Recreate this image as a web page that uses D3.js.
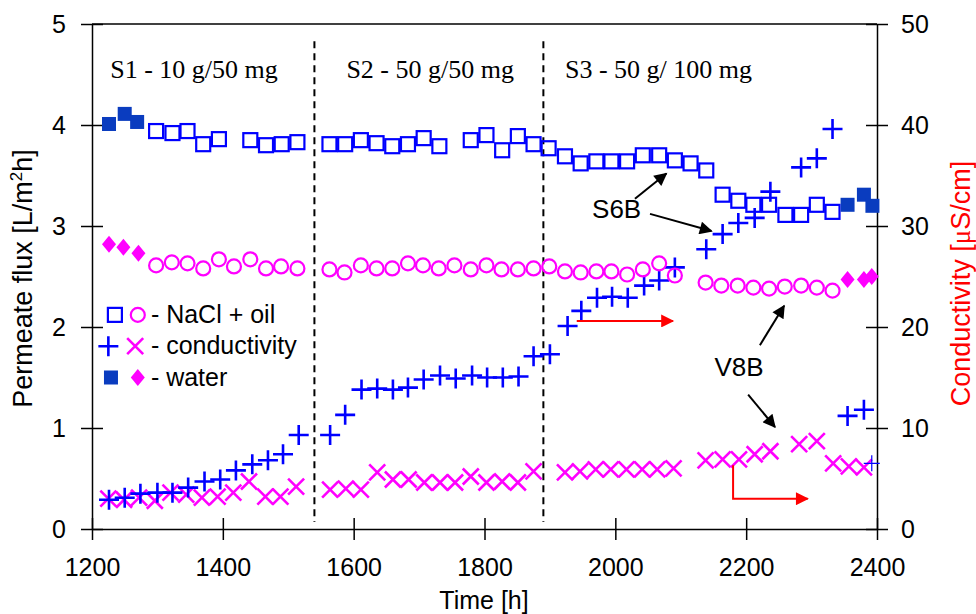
<!DOCTYPE html>
<html><head><meta charset="utf-8">
<script src="https://cdn.jsdelivr.net/npm/d3@7"></script>
<style>
body{margin:0;background:#fff;}
svg{display:block;font-family:"Liberation Sans",Arial,sans-serif;}
</style></head>
<body>
<svg id="chart" width="976" height="614"></svg>
<script>
// ---- data ----
const xTicks = [1200,1400,1600,1800,2000,2200,2400];
const yLeftTicks = [0,1,2,3,4,5];
const yRightTicks = [0,10,20,30,40,50];

// S6B permeate flux, NaCl + oil (open squares)
const sqTime = [1298,1323,1346,1370,1394,1442,1466,1490,1514,
  1563,1587,1611,1635,1659,1683,1707,1731,1779,1803,1827,1851,1875,1898,
  1923,1947,1971,1994,2018,2042,2067,2091,2115,2139,2164,2188,2211,2235,2260,2284,2308,2332];
const sqFlux = [3.94,3.92,3.94,3.81,3.86,3.85,3.80,3.81,3.83,
  3.81,3.81,3.85,3.82,3.79,3.81,3.87,3.79,3.85,3.90,3.75,3.89,3.81,3.77,
  3.69,3.62,3.64,3.64,3.64,3.70,3.70,3.65,3.62,3.55,3.31,3.25,3.21,3.21,3.11,3.11,3.21,3.14];
// S6B water flux (filled squares)
const wsqTime = [1226,1250,1269,2355,2380,2393];
const wsqFlux = [4.01,4.11,4.03,3.21,3.31,3.20];
// V8B permeate flux, NaCl + oil (open circles)
const ciTime = [1298,1322,1346,1370,1394,1417,1442,1466,1489,1514,
  1563,1586,1611,1635,1659,1683,1706,1730,1754,1779,1803,1826,1851,1875,1899,
  1923,1947,1971,1994,2018,2042,2067,2091,2138,2162,2187,2211,2235,2259,2284,2308,2332];
const ciFlux = [2.61,2.64,2.63,2.58,2.67,2.60,2.67,2.58,2.60,2.58,
  2.57,2.54,2.61,2.58,2.58,2.63,2.61,2.58,2.61,2.57,2.61,2.57,2.57,2.58,2.60,
  2.55,2.54,2.55,2.55,2.52,2.57,2.63,2.51,2.44,2.41,2.41,2.39,2.38,2.40,2.41,2.39,2.36];
// V8B water flux (diamonds)
const dmTime = [1226,1248,1271,2355,2380,2392];
const dmFlux = [2.82,2.79,2.73,2.47,2.47,2.50];
// S6B conductivity (plus)
const plTime = [1226,1250,1274,1300,1323,1347,1372,1396,1420,1445,1469,1492,1516,
  1564,1587,1612,1636,1660,1683,1707,1732,1756,1781,1804,1828,1852,1875,1900,
  1927,1948,1972,1995,2019,2044,2067,2091,2139,2164,2188,2213,2237,2284,2308,2332,2355,2380,2392];
const plCond = [2.9,3.1,3.5,3.6,3.6,4.1,4.7,4.9,5.8,6.4,6.8,7.4,9.3,
  9.3,11.3,13.8,13.9,13.8,14.0,14.8,15.2,14.9,15.2,15.0,15.0,15.1,17.1,17.3,
  20.1,21.6,22.9,23.0,22.9,24.1,24.6,25.9,27.7,29.2,30.3,30.8,33.4,35.8,36.7,39.6,11.2,11.8,6.5];
// V8B conductivity (x)
const crTime = [1225,1249,1272,1296,1320,1344,1368,1392,1416,1440,1465,1488,1512,
  1564,1588,1611,1636,1660,1684,1708,1732,1755,1779,1803,1827,1851,1875,
  1923,1946,1970,1993,2017,2041,2064,2089,2138,2164,2189,2213,2237,2281,2308,2333,2357,2380];
const crCond = [3.0,2.9,3.1,2.8,3.6,3.4,3.1,3.2,3.6,4.7,3.2,3.2,4.2,
  3.9,4.0,3.9,5.6,4.9,4.9,4.6,4.6,4.6,5.2,4.6,4.7,4.6,5.7,
  5.6,5.7,5.9,5.9,5.9,5.9,5.9,6.0,6.8,6.9,6.9,7.4,7.7,8.4,8.7,6.5,6.2,6.1];

const stageBounds = [1540,1890];
const stageLabels = ["S1 - 10 g/50 mg","S2 - 50 g/50 mg","S3 - 50 g/ 100 mg"];
const stageLabelTime = [1356,1717,2066];

// ---- layout ----
const svg = d3.select("#chart");
const X0=92, X1=877, Y0=529, Y1=24;
const x = d3.scaleLinear().domain([1200,2400]).range([X0,X1]);
const yL = d3.scaleLinear().domain([0,5]).range([Y0,Y1]);
const yR = d3.scaleLinear().domain([0,50]).range([Y0,Y1]);

const BLUE="#0000ff", DBLUE="#0a3cbf", MAG="#ff00ff", RED="#ff0000";
const SANS="'Liberation Sans',Arial,sans-serif", SERIF="'Liberation Serif','Times New Roman',serif";

// frame
svg.append("line").attr("x1",X0).attr("x2",X1).attr("y1",Y1).attr("y2",Y1).attr("stroke","#000").attr("stroke-width",1.5);

function styleAxis(g){
  g.attr("font-family",null).attr("font-size",null);
  g.select(".domain").attr("stroke","#000").attr("stroke-width",1.5);
  g.selectAll(".tick line").attr("stroke","#000").attr("stroke-width",1.5);
  g.selectAll(".tick text").style("font-size","25px").style("font-family",SANS).attr("fill","#000");
}
const gx = svg.append("g").attr("transform",`translate(0,${Y0})`)
  .call(d3.axisBottom(x).tickValues(xTicks).tickSize(11).tickPadding(18).tickSizeOuter(0).tickFormat(d3.format("d")));
styleAxis(gx); gx.selectAll(".tick line").attr("y1",-11);
const gl = svg.append("g").attr("transform",`translate(${X0},0)`)
  .call(d3.axisLeft(yL).tickValues(yLeftTicks).tickSize(11).tickPadding(15).tickSizeOuter(0).tickFormat(d3.format("d")));
styleAxis(gl); gl.selectAll(".tick line").attr("x1",11);
const gr = svg.append("g").attr("transform",`translate(${X1},0)`)
  .call(d3.axisRight(yR).tickValues(yRightTicks).tickSize(11).tickPadding(13).tickSizeOuter(0).tickFormat(d3.format("d")));
styleAxis(gr); gr.selectAll(".tick line").attr("x1",-11);

// stage separators
svg.selectAll(".sep").data(stageBounds).enter().append("line")
  .attr("x1",d=>x(d)).attr("x2",d=>x(d)).attr("y1",yL(4.83)).attr("y2",yL(0.07))
  .attr("stroke","#000").attr("stroke-width",2).attr("stroke-dasharray","7,5");
svg.selectAll(".stl").data(stageLabels).enter().append("text")
  .attr("x",(d,i)=>x(stageLabelTime[i])).attr("y",yL(4.47))
  .attr("text-anchor","middle").style("font-family",SERIF)
  .style("font-size","26px").text(d=>d);

// axis titles
svg.append("text").attr("x",484).attr("y",609).attr("text-anchor","middle").style("font-size","25px").text("Time [h]");
const lt = svg.append("text").attr("transform",`translate(32,${(Y0+Y1)/2+2}) rotate(-90)`).attr("text-anchor","middle").style("font-size","27px");
lt.append("tspan").text("Permeate flux [L/m");
lt.append("tspan").style("font-size","17px").attr("dy",-10).text("2");
lt.append("tspan").attr("dy",10).text("h]");
const rt = svg.append("text").attr("transform",`translate(970,${(Y0+Y1)/2+7}) rotate(-90)`).attr("text-anchor","middle").style("font-size","27px").attr("fill",RED);
rt.append("tspan").text("Conductivity [");
rt.append("tspan").style("font-family",SERIF).text("μ");
rt.append("tspan").text("S/cm]");

// marker helpers
const plusPath = s => `M${-s},0H${s}M0,${-s}V${s}`;
const crossPath = s => `M${-s},${-s}L${s},${s}M${-s},${s}L${s},${-s}`;
const diamondPath = (w,h) => `M0,${-h}L${w},0L0,${h}L${-w},0Z`;

function zipT(t,v){return t.map((d,i)=>({t:d,v:v[i]}));}

const marks = svg.append("g");
// crosses (V8B conductivity)
marks.selectAll(".cr").data(zipT(crTime,crCond)).enter().append("path")
  .attr("transform",d=>`translate(${x(d.t)},${yR(d.v)})`).attr("d",crossPath(8))
  .attr("stroke",MAG).attr("stroke-width",2.6).attr("fill","none");
// plus (S6B conductivity); the point on the right border is drawn thin as in the original
marks.selectAll(".pl").data(zipT(plTime,plCond)).enter().append("path")
  .attr("transform",d=>`translate(${x(d.t)},${yR(d.v)})`).attr("d",d=>plusPath(d.t>2390?8:10))
  .attr("stroke",BLUE).attr("stroke-width",d=>d.t>2390?1.2:2.6).attr("fill","none");
// open circles
marks.selectAll(".ci").data(zipT(ciTime,ciFlux)).enter().append("circle")
  .attr("cx",d=>x(d.t)).attr("cy",d=>yL(d.v)).attr("r",7)
  .attr("stroke",MAG).attr("stroke-width",2.2).attr("fill","none");
// diamonds
marks.selectAll(".dm").data(zipT(dmTime,dmFlux)).enter().append("path")
  .attr("transform",d=>`translate(${x(d.t)},${yL(d.v)})`).attr("d",diamondPath(7,8.5)).attr("fill",MAG);
// open squares
marks.selectAll(".sq").data(zipT(sqTime,sqFlux)).enter().append("rect")
  .attr("x",d=>x(d.t)-7).attr("y",d=>yL(d.v)-7).attr("width",14).attr("height",14)
  .attr("stroke",BLUE).attr("stroke-width",2.2).attr("fill","none");
// filled squares
marks.selectAll(".wsq").data(zipT(wsqTime,wsqFlux)).enter().append("rect")
  .attr("x",d=>x(d.t)-7).attr("y",d=>yL(d.v)-7).attr("width",14).attr("height",14).attr("fill",DBLUE);

// legend
const legLabels = ["- NaCl + oil","- conductivity","- water"];
const lr = [2.12, 1.81, 1.50];
const legendT1 = 1235, legendT2 = 1270, legendTextT = 1290;
const lg = svg.append("g");
lg.append("rect").attr("x",x(legendT1)-7).attr("y",yL(lr[0])-7).attr("width",14).attr("height",14).attr("stroke",BLUE).attr("stroke-width",2.2).attr("fill","none");
lg.append("circle").attr("cx",x(legendT2)).attr("cy",yL(lr[0])).attr("r",7).attr("stroke",MAG).attr("stroke-width",2.2).attr("fill","none");
lg.append("path").attr("transform",`translate(${x(legendT1-10)},${yL(lr[1])})`).attr("d",plusPath(10)).attr("stroke",BLUE).attr("stroke-width",2.6);
lg.append("path").attr("transform",`translate(${x(legendT2-4)},${yL(lr[1])})`).attr("d",crossPath(8)).attr("stroke",MAG).attr("stroke-width",2.6);
lg.append("rect").attr("x",x(legendT1-6)-7).attr("y",yL(lr[2])-7).attr("width",14).attr("height",14).attr("fill",DBLUE);
lg.append("path").attr("transform",`translate(${x(legendT2)},${yL(lr[2])})`).attr("d",diamondPath(7,8.5)).attr("fill",MAG);
lg.selectAll("text").data(legLabels).enter().append("text")
  .attr("x",x(legendTextT)).attr("y",(d,i)=>yL(lr[i])+8).style("font-size","25px").text(d=>d);

// annotations
const defs = svg.append("defs");
function marker(id,color){
  defs.append("marker").attr("id",id).attr("viewBox","0 0 10 10").attr("refX",9).attr("refY",5)
    .attr("markerWidth",15).attr("markerHeight",13).attr("markerUnits","userSpaceOnUse").attr("orient","auto")
    .append("path").attr("d","M0,0L10,5L0,10Z").attr("fill",color);
}
marker("ab","#000"); marker("ar",RED);

const blackArrows = [
  [[2030,3.27],[2078,3.52]],
  [[2053,3.12],[2147,2.95]],
  [[2221,1.82],[2258,2.21]],
  [[2203,1.33],[2244,1.01]]
];
const line = d3.line().x(d=>x(d[0])).y(d=>yL(d[1]));
svg.selectAll(".ba").data(blackArrows).enter().append("path")
  .attr("d",line).attr("stroke","#000").attr("stroke-width",2).attr("fill","none").attr("marker-end","url(#ab)");
const redArrows = [
  [[1941,2.06],[2088,2.06]],
  [[2180,0.63],[2180,0.30],[2294,0.30]]
];
svg.selectAll(".ra").data(redArrows).enter().append("path")
  .attr("d",line).attr("stroke",RED).attr("stroke-width",2).attr("fill","none").attr("marker-end","url(#ar)");

const notes = [{t:2002,v:3.17,s:"S6B"},{t:2189,v:1.60,s:"V8B"}];
svg.selectAll(".note").data(notes).enter().append("text")
  .attr("x",d=>x(d.t)).attr("y",d=>yL(d.v)+9).attr("text-anchor","middle").style("font-size","26px").text(d=>d.s);
</script>
</body></html>
